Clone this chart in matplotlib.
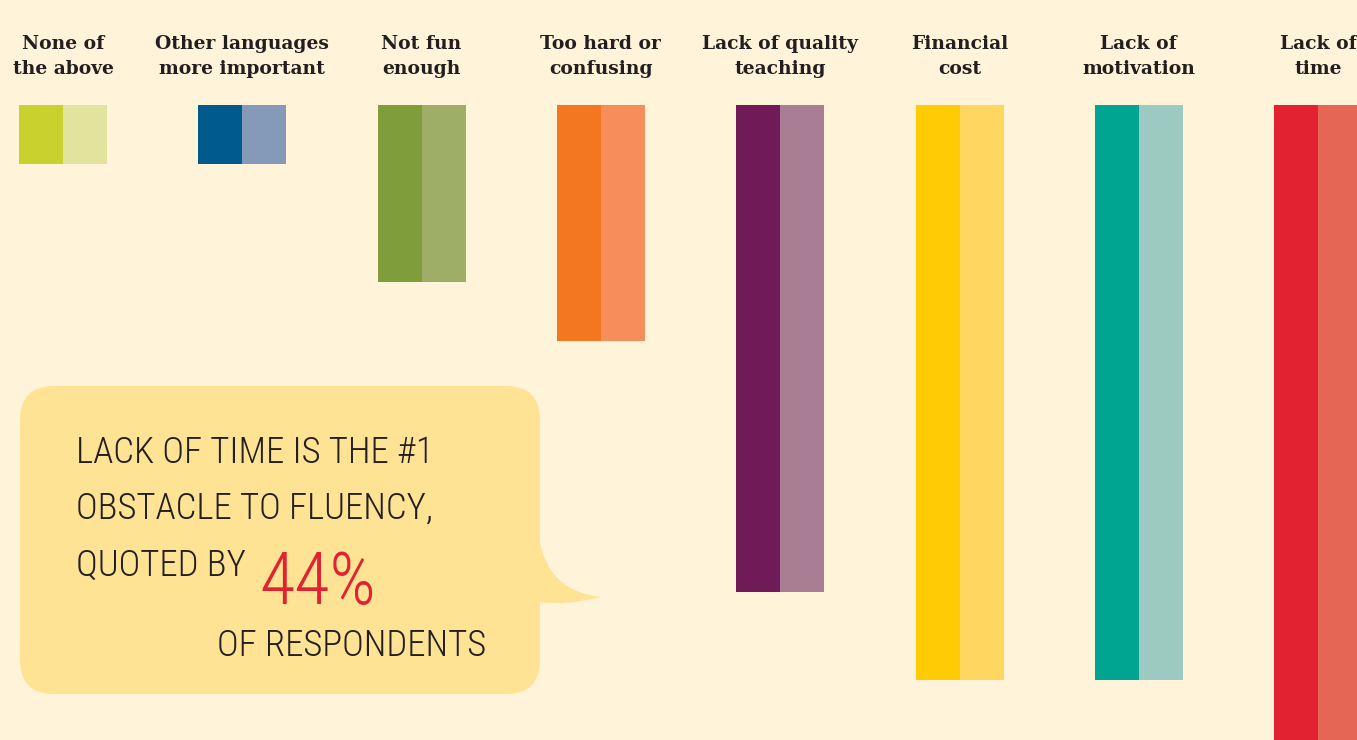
import matplotlib
matplotlib.use("Agg")
import matplotlib.pyplot as plt
from matplotlib import font_manager
from matplotlib.patches import FancyBboxPatch, PathPatch
from matplotlib.path import Path

# ---- data ----
categories = ["None of\nthe above", "Other languages\nmore important", "Not fun\nenough",
              "Too hard or\nconfusing", "Lack of quality\nteaching", "Financial\ncost",
              "Lack of\nmotivation", "Lack of\ntime"]
series_a = [4, 4, 12, 16, 33, 39, 39, 44]
series_b = [4, 4, 12, 16, 33, 39, 39, 44]
dark_colors = ["#c8d12e", "#005b8c", "#809d3b", "#f37721", "#701b57", "#ffcb05", "#00a592", "#e22230"]
light_colors = ["#e2e39c", "#859ab8", "#9fae66", "#f68d5a", "#a97e95", "#ffd760", "#9dc9c3", "#e56654"]
callout_lines = ["LACK OF TIME IS THE #1", "OBSTACLE TO FLUENCY,", "QUOTED BY", "OF RESPONDENTS"]
callout_value = "44%"

BG = "#fff4d9"
BUBBLE = "#ffe394"
INK = "#231f20"

avail = {(f.name, f.stretch) for f in font_manager.fontManager.ttflist}
has_cond = any(n == "DejaVu Sans" and s in ("condensed", "semi-condensed") for n, s in avail)
narrow = None
for cand in ["Liberation Sans Narrow", "Roboto Condensed", "Open Sans Condensed"]:
    if any(n == cand for n, s in avail):
        narrow = cand
        break

W, H = 1357, 740
fig = plt.figure(figsize=(W / 100, H / 100), dpi=100, facecolor=BG)
ax = fig.add_axes([0, 0, 1, 1])
ax.set_facecolor(BG)

spacing = 179.3
first = 63.0
px_per = 14.75
top = 105.0
bw = 44.0 / spacing

ax.set_xlim(-first / spacing, (W - first) / spacing)
ax.set_ylim((H - top) / px_per, -top / px_per)
ax.axis("off")

x = list(range(len(categories)))
ax.bar([i - bw / 2 for i in x], series_a, width=bw, bottom=0, color=dark_colors, linewidth=0, align="center")
ax.bar([i + bw / 2 for i in x], series_b, width=bw, bottom=0, color=light_colors, linewidth=0, align="center")

for i, c in enumerate(categories):
    ax.text(i, -3.3, c, ha="center", va="center", fontsize=13.5, fontweight="bold",
            family="DejaVu Serif", color=INK, linespacing=1.5)

# ---- callout overlay in pixel coords ----
ov = fig.add_axes([0, 0, 1, 1], facecolor="none")
ov.set_xlim(0, W)
ov.set_ylim(H, 0)
ov.axis("off")

bub = FancyBboxPatch((20, 386), 520, 308, boxstyle="round,pad=0,rounding_size=34",
                     facecolor=BUBBLE, edgecolor="none")
ov.add_patch(bub)
verts = [(539, 538), (548, 592), (602, 597), (602, 597), (565, 606), (539, 602), (539, 538)]
codes = [Path.MOVETO, Path.CURVE3, Path.CURVE3, Path.LINETO, Path.CURVE3, Path.CURVE3, Path.CLOSEPOLY]
ov.add_patch(PathPatch(Path(verts, codes), facecolor=BUBBLE, edgecolor="none"))

if narrow:
    fam = [narrow, "DejaVu Sans"]
    stretch = "normal"
    fs = 26.5
    fv = 52
else:
    fam = ["DejaVu Sans"]
    stretch = "condensed" if has_cond else "normal"
    fs = 21 if has_cond else 19
    fv = 44
kw = dict(family=fam, color=INK, fontsize=fs, fontweight="light", fontstretch=stretch,
          va="baseline", ha="left")
ov.text(76, 463, callout_lines[0], **kw)
ov.text(76, 519, callout_lines[1], **kw)
ov.text(76, 576, callout_lines[2], **kw)
ov.text(259, 604, callout_value, family=fam, color="#e22230", fontsize=fv,
        fontweight="light", fontstretch=stretch, va="baseline", ha="left")
ov.text(217, 656, callout_lines[3], **kw)

fig.savefig("out.png", dpi=100, facecolor=BG)
